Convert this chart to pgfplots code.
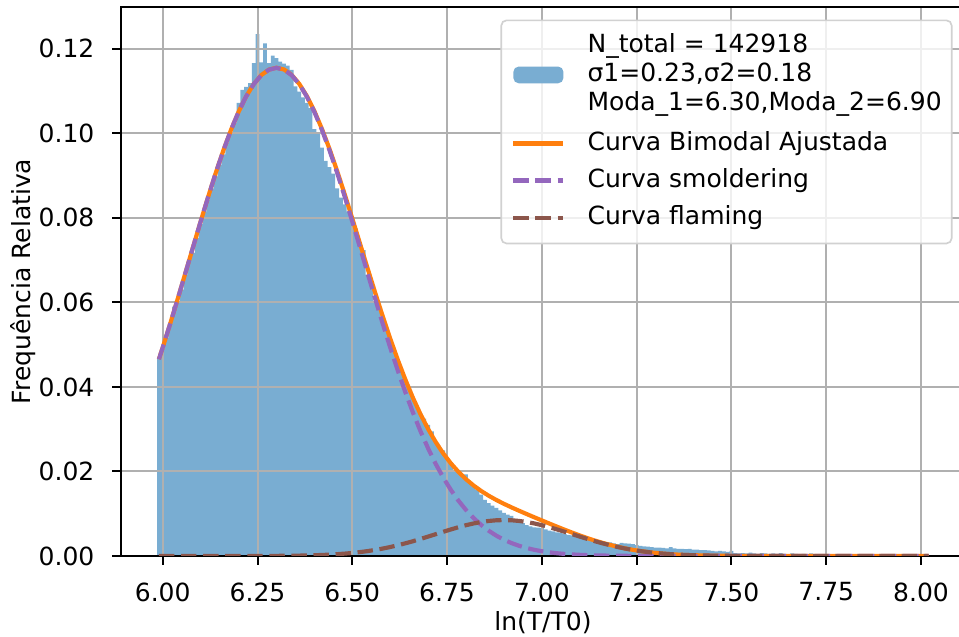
\documentclass[border=0pt]{standalone}
\usepackage{fontspec}
\setmainfont{DejaVu Sans}
\usepackage{pgfplots}
\usepackage{pgfplotstable}
\pgfplotsset{compat=1.18}
\definecolor{histblue}{RGB}{121,173,210}
\definecolor{mplorange}{HTML}{FF7F0E}
\definecolor{mplpurple}{HTML}{9467BD}
\definecolor{mplbrown}{HTML}{8C564B}
\definecolor{gridgray}{HTML}{B0B0B0}
\pgfplotsset{
  lineleg/.style={legend image code/.code={\draw[##1, line cap=butt] (0pt,3.2pt) -- (24pt,3.2pt);}},
  histleg/.style={legend image code/.code={\fill[histblue, fill opacity=1] (0pt,-14.7pt) rectangle (24pt,-6.7pt);}},
}

\pgfplotstableread{
x y
5.985 0.0470
5.995 0.0490
6.005 0.0516
6.015 0.0552
6.025 0.0590
6.035 0.0600
6.045 0.0630
6.055 0.0665
6.065 0.0700
6.075 0.0717
6.085 0.0752
6.095 0.0785
6.105 0.0815
6.115 0.0842
6.125 0.0870
6.135 0.0898
6.145 0.0925
6.155 0.0950
6.165 0.0978
6.175 0.1002
6.185 0.1025
6.195 0.1072
6.205 0.1103
6.215 0.1110
6.225 0.1119
6.235 0.1166
6.245 0.1235
6.255 0.1168
6.265 0.1213
6.275 0.1166
6.285 0.1184
6.295 0.1178
6.305 0.1170
6.315 0.1165
6.325 0.1160
6.335 0.1150
6.345 0.1111
6.355 0.1099
6.365 0.1085
6.375 0.1072
6.385 0.1060
6.395 0.1010
6.405 0.1000
6.415 0.0966
6.425 0.0935
6.435 0.0920
6.445 0.0905
6.455 0.0870
6.465 0.0848
6.475 0.0832
6.485 0.0815
6.495 0.0795
6.505 0.0775
6.515 0.0735
6.525 0.0724
6.535 0.0665
6.545 0.0646
6.555 0.0600
6.565 0.0582
6.575 0.0558
6.585 0.0540
6.595 0.0512
6.605 0.0488
6.615 0.0462
6.625 0.0440
6.635 0.0418
6.645 0.0398
6.655 0.0372
6.665 0.0355
6.675 0.0338
6.685 0.0325
6.695 0.0310
6.705 0.0295
6.715 0.0268
6.725 0.0256
6.735 0.0250
6.745 0.0232
6.755 0.0222
6.765 0.0204
6.775 0.0200
6.785 0.0188
6.795 0.0193
6.805 0.0173
6.815 0.0165
6.825 0.0156
6.835 0.0145
6.845 0.0133
6.855 0.0125
6.865 0.0119
6.875 0.0114
6.885 0.0108
6.895 0.0102
6.905 0.0098
6.915 0.0095
6.925 0.0088
6.935 0.0083
6.945 0.0078
6.955 0.0073
6.965 0.0070
6.975 0.0068
6.985 0.0067
6.995 0.0066
7.005 0.0063
7.015 0.0060
7.025 0.0058
7.035 0.0056
7.045 0.0054
7.055 0.0052
7.065 0.0050
7.075 0.0049
7.085 0.0047
7.095 0.0046
7.105 0.0044
7.115 0.0043
7.125 0.0041
7.135 0.0039
7.145 0.0037
7.155 0.0035
7.165 0.0033
7.175 0.0032
7.185 0.0030
7.195 0.0028
7.205 0.0031
7.215 0.0030
7.225 0.0029
7.235 0.0028
7.245 0.0026
7.255 0.0024
7.265 0.0023
7.275 0.0022
7.285 0.0021
7.295 0.0020
7.305 0.0020
7.315 0.0019
7.325 0.0018
7.335 0.0021
7.345 0.0018
7.355 0.0017
7.365 0.0017
7.375 0.0016
7.385 0.0017
7.395 0.0015
7.405 0.0015
7.415 0.0014
7.425 0.0014
7.435 0.0013
7.445 0.0012
7.455 0.0011
7.465 0.0012
7.475 0.0011
7.485 0.0010
7.495 0.0012
7.505 0.0007
7.515 0.0006
7.525 0.0007
7.535 0.0006
7.545 0.0008
7.555 0.0006
7.565 0.0005
7.575 0.0007
7.585 0.0006
7.595 0.0005
7.605 0.0006
7.615 0.0005
7.625 0.0007
7.635 0.0005
7.645 0.0004
7.655 0.0006
7.665 0.0005
7.675 0.0004
7.685 0.0005
7.695 0.0004
7.705 0.0006
7.715 0.0004
7.725 0.0003
7.735 0.0004
7.745 0.0003
7.755 0.0004
7.765 0.0003
7.775 0.0003
7.785 0.0002
7.795 0.0003
7.805 0.0002
7.815 0.0003
7.825 0.0002
7.835 0.0002
7.845 0.0002
7.855 0.0004
7.865 0.0003
7.875 0.0002
7.885 0.0001
7.895 0.0002
7.905 0.0001
7.915 0.0002
7.925 0.0001
7.935 0.0001
7.945 0.0002
7.955 0.0001
7.965 0.0001
7.975 0.0001
7.985 0.0001
7.995 0.0001
8.005 0.0001
8.015 0.0000
}\histdata

\pgfplotstableread{
x s f t
5.99 0.04657 0.00000 0.04657
6.00 0.04933 0.00000 0.04933
6.02 0.05505 0.00000 0.05505
6.04 0.06097 0.00000 0.06097
6.06 0.06701 0.00000 0.06701
6.08 0.07310 0.00000 0.07310
6.10 0.07914 0.00000 0.07914
6.12 0.08503 0.00000 0.08503
6.14 0.09068 0.00000 0.09068
6.16 0.09597 0.00000 0.09597
6.18 0.10080 0.00000 0.10080
6.20 0.10508 0.00000 0.10508
6.22 0.10872 0.00001 0.10873
6.24 0.11164 0.00001 0.11165
6.26 0.11377 0.00002 0.11379
6.28 0.11506 0.00002 0.11508
6.30 0.11550 0.00003 0.11553
6.32 0.11506 0.00005 0.11511
6.34 0.11377 0.00007 0.11384
6.36 0.11164 0.00009 0.11173
6.38 0.10872 0.00013 0.10885
6.40 0.10508 0.00018 0.10526
6.42 0.10080 0.00024 0.10104
6.44 0.09597 0.00032 0.09629
6.46 0.09068 0.00043 0.09111
6.48 0.08503 0.00056 0.08559
6.50 0.07914 0.00072 0.07986
6.52 0.07310 0.00092 0.07402
6.54 0.06701 0.00115 0.06816
6.56 0.06097 0.00143 0.06240
6.58 0.05505 0.00175 0.05680
6.60 0.04933 0.00212 0.05145
6.62 0.04388 0.00254 0.04642
6.64 0.03873 0.00300 0.04173
6.66 0.03393 0.00349 0.03742
6.68 0.02950 0.00403 0.03353
6.70 0.02546 0.00459 0.03005
6.72 0.02180 0.00516 0.02696
6.74 0.01853 0.00573 0.02426
6.76 0.01563 0.00628 0.02191
6.78 0.01309 0.00681 0.01990
6.80 0.01087 0.00729 0.01816
6.82 0.00897 0.00770 0.01667
6.84 0.00734 0.00804 0.01538
6.86 0.00596 0.00829 0.01425
6.88 0.00480 0.00845 0.01325
6.90 0.00384 0.00850 0.01234
6.92 0.00305 0.00845 0.01150
6.94 0.00241 0.00829 0.01070
6.96 0.00188 0.00804 0.00992
6.98 0.00146 0.00770 0.00916
7.00 0.00112 0.00729 0.00841
7.02 0.00086 0.00681 0.00767
7.04 0.00065 0.00628 0.00693
7.06 0.00049 0.00573 0.00622
7.08 0.00037 0.00516 0.00553
7.10 0.00027 0.00459 0.00486
7.12 0.00020 0.00403 0.00423
7.14 0.00015 0.00349 0.00364
7.16 0.00011 0.00300 0.00311
7.18 0.00008 0.00254 0.00262
7.20 0.00005 0.00212 0.00217
7.22 0.00004 0.00175 0.00179
7.24 0.00003 0.00143 0.00146
7.26 0.00002 0.00115 0.00117
7.28 0.00001 0.00092 0.00093
7.30 0.00001 0.00072 0.00073
7.32 0.00000 0.00056 0.00056
7.34 0.00000 0.00043 0.00043
7.36 0.00000 0.00032 0.00032
7.38 0.00000 0.00024 0.00024
7.40 0.00000 0.00018 0.00018
7.45 0.00000 0.00008 0.00008
7.50 0.00000 0.00003 0.00003
7.60 0.00000 0.00000 0.00000
7.80 0.00000 0.00000 0.00000
8.02 0.00000 0.00000 0.00000
}\curves

\begin{document}
\begin{tikzpicture}
\begin{axis}[
  set layers,
  scale only axis,
  width=405.1pt, height=263.5pt,
  xmin=5.890, xmax=8.116, ymin=0, ymax=0.1299,
  xtick={6,6.25,6.5,6.75,7,7.25,7.5,7.75,8},
  ytick={0,0.02,0.04,0.06,0.08,0.1,0.12},
  scaled x ticks=false, scaled y ticks=false,
  tick align=outside, tick pos=left,
  major tick length=4.2pt,
  every tick/.style={black, line width=0.96pt},
  axis line style={black, line width=0.96pt},
  grid=major,
  major grid style={gridgray, line width=0.96pt},
  xticklabel style={font=\fontsize{12}{14}\selectfont, anchor=north, inner sep=0pt, yshift=-8.4pt,
    /pgf/number format/fixed, /pgf/number format/fixed zerofill, /pgf/number format/precision=2,
    /pgf/number format/assume math mode=true},
  yticklabel style={font=\fontsize{12}{14}\selectfont, anchor=east, inner sep=0pt, xshift=-8.4pt,
    /pgf/number format/fixed, /pgf/number format/fixed zerofill, /pgf/number format/precision=2,
    /pgf/number format/assume math mode=true},
  xlabel={ln(T/T0)},
  ylabel={Frequência Relativa},
  every axis x label/.style={at={(axis description cs:0.5,-0.1222)}, anchor=center, font=\fontsize{12}{14}\selectfont},
  every axis y label/.style={at={(axis description cs:-0.116,0.5)}, rotate=90, anchor=center, font=\fontsize{12}{14}\selectfont},
  legend cell align=left,
  legend style={at={(axis description cs:1,1)}, xshift=-6pt, yshift=-6pt, anchor=north east,
    draw=black!18, line width=0.8pt, rounded corners=2.5pt, fill=white, fill opacity=0.8,
    draw opacity=1, text opacity=1, font=\fontsize{12}{13.8}\selectfont,
    inner xsep=4.8pt, inner ysep=6.4pt, row sep=5.9pt,
    nodes={inner sep=0pt},
    /tikz/every odd column/.append style={column sep=10.6pt}},
]
\addplot[on layer=axis background, const plot, fill=histblue, draw=none, histleg]
  table[x=x, y=y] {\histdata} \closedcycle;
\addlegendentry[anchor=base west, text height=9.1pt, text depth=31.8pt]{\fontsize{12}{13.8}\selectfont\begin{tabular}[t]{@{}l@{}}N\_total = 142918\\σ1=0.23,σ2=0.18\\Moda\_1=6.30,Moda\_2=6.90\end{tabular}}
\addplot[mplorange, line width=2pt, line join=round, lineleg]
  table[x=x, y=t] {\curves};
\addlegendentry[anchor=base west, text height=9.1pt, text depth=2.8pt]{Curva Bimodal Ajustada}
\addplot[mplpurple, line width=2pt, dash pattern=on 7.4pt off 3.2pt, lineleg]
  table[x=x, y=s] {\curves};
\addlegendentry[anchor=base west, text height=9.1pt, text depth=2.8pt]{Curva smoldering}
\addplot[mplbrown, line width=2pt, dash pattern=on 7.4pt off 3.2pt, lineleg]
  table[x=x, y=f] {\curves};
\addlegendentry[anchor=base west, text height=9.1pt, text depth=2.8pt]{Curva flaming}
\end{axis}
\pgfresetboundingbox
\path ([xshift=-58.08pt,yshift=-38.88pt]current axis.south west) rectangle ([xshift=-2.88pt,yshift=3.36pt]current axis.north east);
\end{tikzpicture}
\end{document}
